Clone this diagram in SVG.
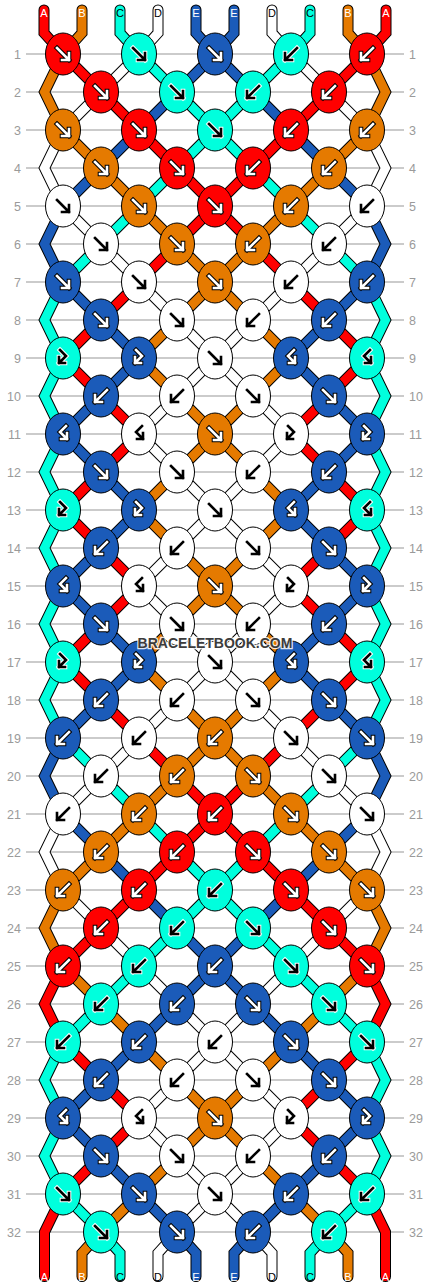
<svg xmlns="http://www.w3.org/2000/svg" width="430" height="1288" viewBox="0 0 430 1288">
<style>
.rl{fill:none;stroke:#bbb;stroke-width:1.5}
.num{font-family:"Liberation Sans",Arial,sans-serif;font-size:12.5px;fill:#9a9a9a}
.nl{text-anchor:end}
.s{fill:none;stroke-linejoin:miter;stroke-linecap:round;stroke-miterlimit:10}
.so{stroke:#000;stroke-width:11}
.sR{stroke:#f00;stroke-width:9}
.sO{stroke:#e57a00;stroke-width:9}
.sC{stroke:#00ffdd;stroke-width:9}
.sW{stroke:#fff;stroke-width:9}
.sB{stroke:#1b5bb9;stroke-width:9}
ellipse{stroke:#000;stroke-width:1}
.R{fill:#f00}.O{fill:#e57a00}.C{fill:#00ffdd}.B{fill:#1b5bb9}.W{fill:#fff}
.ar{fill:none;stroke-linejoin:miter;stroke-linecap:square}
.ao{stroke:#000;stroke-width:4.6}.ai{stroke:#fff;stroke-width:2.6}
.ko{stroke:#fff;stroke-width:4.6}.ki{stroke:#000;stroke-width:2.6}
.lt{font-family:"Liberation Sans",Arial,sans-serif;font-size:11px;text-anchor:middle}
.lw{fill:#fff}.lk{fill:#000}
.wm{font-family:"Liberation Sans",Arial,sans-serif;font-weight:bold;font-size:14px;fill:#3c3c3c;stroke:#fff;stroke-opacity:.85;stroke-width:2.5;paint-order:stroke;text-anchor:middle}
</style>
<defs>
<path id="sA" d="M44,10 L44,33 L63,54 L101,92 L139,130 L177,168 L215,206 L177,244 L139,282 L101,320 L63,358 L101,396 L139,434 L101,472 L63,510 L101,548 L139,586 L101,624 L63,662 L101,700 L139,738 L177,776 L215,814 L177,852 L139,890 L101,928 L63,966 L44.5,1004 L63,1042 L101,1080 L139,1118 L101,1156 L63,1194 L44.5,1232 L44.5,1276.5"/>
<path id="sB" d="M82,10 L82,33 L63,54 L44.5,92 L63,130 L101,168 L139,206 L177,244 L215,282 L177,320 L139,358 L177,396 L215,434 L177,472 L139,510 L177,548 L215,586 L177,624 L139,662 L177,700 L215,738 L177,776 L139,814 L101,852 L63,890 L44.5,928 L63,966 L101,1004 L139,1042 L177,1080 L215,1118 L177,1156 L139,1194 L101,1232 L82,1253 L82,1276.5"/>
<path id="sC" d="M120,10 L120,33 L139,54 L177,92 L215,130 L177,168 L139,206 L101,244 L63,282 L44.5,320 L63,358 L44.5,396 L63,434 L44.5,472 L63,510 L44.5,548 L63,586 L44.5,624 L63,662 L44.5,700 L63,738 L101,776 L139,814 L177,852 L215,890 L177,928 L139,966 L101,1004 L63,1042 L44.5,1080 L63,1118 L44.5,1156 L63,1194 L101,1232 L120,1253 L120,1276.5"/>
<path id="sD" d="M158,10 L158,33 L139,54 L101,92 L63,130 L44.5,168 L63,206 L101,244 L139,282 L177,320 L215,358 L177,396 L139,434 L177,472 L215,510 L177,548 L139,586 L177,624 L215,662 L177,700 L139,738 L101,776 L63,814 L44.5,852 L63,890 L101,928 L139,966 L177,1004 L215,1042 L177,1080 L139,1118 L177,1156 L215,1194 L177,1232 L158,1253 L158,1276.5"/>
<path id="sE" d="M196,10 L196,33 L215,54 L177,92 L139,130 L101,168 L63,206 L44.5,244 L63,282 L101,320 L139,358 L101,396 L63,434 L101,472 L139,510 L101,548 L63,586 L101,624 L139,662 L101,700 L63,738 L44.5,776 L63,814 L101,852 L139,890 L177,928 L215,966 L177,1004 L139,1042 L101,1080 L63,1118 L101,1156 L139,1194 L177,1232 L196,1253 L196,1276.5"/>
<path id="pf" class="ar" d="M-6,-6L6,6M6,-1L6,6L-1,6"/>
<path id="pb" class="ar" d="M6,-6L-6,6M-6,-1L-6,6L1,6"/>
<path id="pfb" class="ar" d="M-3,-8L3,-2L-4,5M-4,-1L-4,5L2,5"/>
<path id="pbf" class="ar" d="M3,-8L-3,-2L4,5M4,-1L4,5L-2,5"/>
<g id="fW"><use href="#pf" class="ao"/><use href="#pf" class="ai"/></g>
<g id="fK"><use href="#pf" class="ko"/><use href="#pf" class="ki"/></g>
<g id="bW"><use href="#pb" class="ao"/><use href="#pb" class="ai"/></g>
<g id="bK"><use href="#pb" class="ko"/><use href="#pb" class="ki"/></g>
<g id="fbW"><use href="#pfb" class="ao"/><use href="#pfb" class="ai"/></g>
<g id="fbK"><use href="#pfb" class="ko"/><use href="#pfb" class="ki"/></g>
<g id="bfW"><use href="#pbf" class="ao"/><use href="#pbf" class="ai"/></g>
<g id="bfK"><use href="#pbf" class="ko"/><use href="#pbf" class="ki"/></g>
</defs>
<rect width="430" height="1288" fill="#fff"/>
<path class="rl" d="M26,54H404M26,92H404M26,130H404M26,168H404M26,206H404M26,244H404M26,282H404M26,320H404M26,358H404M26,396H404M26,434H404M26,472H404M26,510H404M26,548H404M26,586H404M26,624H404M26,662H404M26,700H404M26,738H404M26,776H404M26,814H404M26,852H404M26,890H404M26,928H404M26,966H404M26,1004H404M26,1042H404M26,1080H404M26,1118H404M26,1156H404M26,1194H404M26,1232H404"/>
<g id="row-numbers">
<text class="num nl" x="21" y="58.5">1</text><text class="num" x="409" y="58.5">1</text>
<text class="num nl" x="21" y="96.5">2</text><text class="num" x="409" y="96.5">2</text>
<text class="num nl" x="21" y="134.5">3</text><text class="num" x="409" y="134.5">3</text>
<text class="num nl" x="21" y="172.5">4</text><text class="num" x="409" y="172.5">4</text>
<text class="num nl" x="21" y="210.5">5</text><text class="num" x="409" y="210.5">5</text>
<text class="num nl" x="21" y="248.5">6</text><text class="num" x="409" y="248.5">6</text>
<text class="num nl" x="21" y="286.5">7</text><text class="num" x="409" y="286.5">7</text>
<text class="num nl" x="21" y="324.5">8</text><text class="num" x="409" y="324.5">8</text>
<text class="num nl" x="21" y="362.5">9</text><text class="num" x="409" y="362.5">9</text>
<text class="num nl" x="21" y="400.5">10</text><text class="num" x="409" y="400.5">10</text>
<text class="num nl" x="21" y="438.5">11</text><text class="num" x="409" y="438.5">11</text>
<text class="num nl" x="21" y="476.5">12</text><text class="num" x="409" y="476.5">12</text>
<text class="num nl" x="21" y="514.5">13</text><text class="num" x="409" y="514.5">13</text>
<text class="num nl" x="21" y="552.5">14</text><text class="num" x="409" y="552.5">14</text>
<text class="num nl" x="21" y="590.5">15</text><text class="num" x="409" y="590.5">15</text>
<text class="num nl" x="21" y="628.5">16</text><text class="num" x="409" y="628.5">16</text>
<text class="num nl" x="21" y="666.5">17</text><text class="num" x="409" y="666.5">17</text>
<text class="num nl" x="21" y="704.5">18</text><text class="num" x="409" y="704.5">18</text>
<text class="num nl" x="21" y="742.5">19</text><text class="num" x="409" y="742.5">19</text>
<text class="num nl" x="21" y="780.5">20</text><text class="num" x="409" y="780.5">20</text>
<text class="num nl" x="21" y="818.5">21</text><text class="num" x="409" y="818.5">21</text>
<text class="num nl" x="21" y="856.5">22</text><text class="num" x="409" y="856.5">22</text>
<text class="num nl" x="21" y="894.5">23</text><text class="num" x="409" y="894.5">23</text>
<text class="num nl" x="21" y="932.5">24</text><text class="num" x="409" y="932.5">24</text>
<text class="num nl" x="21" y="970.5">25</text><text class="num" x="409" y="970.5">25</text>
<text class="num nl" x="21" y="1008.5">26</text><text class="num" x="409" y="1008.5">26</text>
<text class="num nl" x="21" y="1046.5">27</text><text class="num" x="409" y="1046.5">27</text>
<text class="num nl" x="21" y="1084.5">28</text><text class="num" x="409" y="1084.5">28</text>
<text class="num nl" x="21" y="1122.5">29</text><text class="num" x="409" y="1122.5">29</text>
<text class="num nl" x="21" y="1160.5">30</text><text class="num" x="409" y="1160.5">30</text>
<text class="num nl" x="21" y="1198.5">31</text><text class="num" x="409" y="1198.5">31</text>
<text class="num nl" x="21" y="1236.5">32</text><text class="num" x="409" y="1236.5">32</text>
</g>
<g id="connectors" class="s">
<g class="so"><use href="#sA"/><use href="#sB"/><use href="#sC"/><use href="#sD"/><use href="#sE"/></g>
<g class="so" transform="matrix(-1 0 0 1 430 0)"><use href="#sA"/><use href="#sB"/><use href="#sC"/><use href="#sD"/><use href="#sE"/></g>
<g><use href="#sA" class="sR"/><use href="#sB" class="sO"/><use href="#sC" class="sC"/><use href="#sD" class="sW"/><use href="#sE" class="sB"/></g>
<g transform="matrix(-1 0 0 1 430 0)"><use href="#sA" class="sR"/><use href="#sB" class="sO"/><use href="#sC" class="sC"/><use href="#sD" class="sW"/><use href="#sE" class="sB"/></g>
</g>
<g id="string-labels">
<text class="lt lw" x="44" y="16.5">A</text><text class="lt lw" x="82" y="16.5">B</text><text class="lt lk" x="120" y="16.5">C</text><text class="lt lk" x="158" y="16.5">D</text><text class="lt lw" x="196" y="16.5">E</text><text class="lt lw" x="234" y="16.5">E</text><text class="lt lk" x="272" y="16.5">D</text><text class="lt lk" x="310" y="16.5">C</text><text class="lt lw" x="348" y="16.5">B</text><text class="lt lw" x="386" y="16.5">A</text>
<text class="lt lw" x="44.5" y="1280.5">A</text><text class="lt lw" x="82" y="1280.5">B</text><text class="lt lk" x="120" y="1280.5">C</text><text class="lt lk" x="158" y="1280.5">D</text><text class="lt lw" x="196" y="1280.5">E</text><text class="lt lw" x="234" y="1280.5">E</text><text class="lt lk" x="272" y="1280.5">D</text><text class="lt lk" x="310" y="1280.5">C</text><text class="lt lw" x="348" y="1280.5">B</text><text class="lt lw" x="385.5" y="1280.5">A</text>
</g>
<g id="knots">
<g id="k1-1"><ellipse class="R" cx="63" cy="54" rx="17.5" ry="21"/><use href="#fW" x="63" y="54"/></g>
<g id="k1-2"><ellipse class="C" cx="139" cy="54" rx="17.5" ry="21"/><use href="#fK" x="139" y="54"/></g>
<g id="k1-3"><ellipse class="B" cx="215" cy="54" rx="17.5" ry="21"/><use href="#fW" x="215" y="54"/></g>
<g id="k1-4"><ellipse class="C" cx="291" cy="54" rx="17.5" ry="21"/><use href="#bK" x="291" y="54"/></g>
<g id="k1-5"><ellipse class="R" cx="367" cy="54" rx="17.5" ry="21"/><use href="#bW" x="367" y="54"/></g>
<g id="k2-1"><ellipse class="R" cx="101" cy="92" rx="17.5" ry="21"/><use href="#fW" x="101" y="92"/></g>
<g id="k2-2"><ellipse class="C" cx="177" cy="92" rx="17.5" ry="21"/><use href="#fK" x="177" y="92"/></g>
<g id="k2-3"><ellipse class="C" cx="253" cy="92" rx="17.5" ry="21"/><use href="#bK" x="253" y="92"/></g>
<g id="k2-4"><ellipse class="R" cx="329" cy="92" rx="17.5" ry="21"/><use href="#bW" x="329" y="92"/></g>
<g id="k3-1"><ellipse class="O" cx="63" cy="130" rx="17.5" ry="21"/><use href="#fW" x="63" y="130"/></g>
<g id="k3-2"><ellipse class="R" cx="139" cy="130" rx="17.5" ry="21"/><use href="#fW" x="139" y="130"/></g>
<g id="k3-3"><ellipse class="C" cx="215" cy="130" rx="17.5" ry="21"/><use href="#fK" x="215" y="130"/></g>
<g id="k3-4"><ellipse class="R" cx="291" cy="130" rx="17.5" ry="21"/><use href="#bW" x="291" y="130"/></g>
<g id="k3-5"><ellipse class="O" cx="367" cy="130" rx="17.5" ry="21"/><use href="#bW" x="367" y="130"/></g>
<g id="k4-1"><ellipse class="O" cx="101" cy="168" rx="17.5" ry="21"/><use href="#fW" x="101" y="168"/></g>
<g id="k4-2"><ellipse class="R" cx="177" cy="168" rx="17.5" ry="21"/><use href="#fW" x="177" y="168"/></g>
<g id="k4-3"><ellipse class="R" cx="253" cy="168" rx="17.5" ry="21"/><use href="#bW" x="253" y="168"/></g>
<g id="k4-4"><ellipse class="O" cx="329" cy="168" rx="17.5" ry="21"/><use href="#bW" x="329" y="168"/></g>
<g id="k5-1"><ellipse class="W" cx="63" cy="206" rx="17.5" ry="21"/><use href="#fK" x="63" y="206"/></g>
<g id="k5-2"><ellipse class="O" cx="139" cy="206" rx="17.5" ry="21"/><use href="#fW" x="139" y="206"/></g>
<g id="k5-3"><ellipse class="R" cx="215" cy="206" rx="17.5" ry="21"/><use href="#fW" x="215" y="206"/></g>
<g id="k5-4"><ellipse class="O" cx="291" cy="206" rx="17.5" ry="21"/><use href="#bW" x="291" y="206"/></g>
<g id="k5-5"><ellipse class="W" cx="367" cy="206" rx="17.5" ry="21"/><use href="#bK" x="367" y="206"/></g>
<g id="k6-1"><ellipse class="W" cx="101" cy="244" rx="17.5" ry="21"/><use href="#fK" x="101" y="244"/></g>
<g id="k6-2"><ellipse class="O" cx="177" cy="244" rx="17.5" ry="21"/><use href="#fW" x="177" y="244"/></g>
<g id="k6-3"><ellipse class="O" cx="253" cy="244" rx="17.5" ry="21"/><use href="#bW" x="253" y="244"/></g>
<g id="k6-4"><ellipse class="W" cx="329" cy="244" rx="17.5" ry="21"/><use href="#bK" x="329" y="244"/></g>
<g id="k7-1"><ellipse class="B" cx="63" cy="282" rx="17.5" ry="21"/><use href="#fW" x="63" y="282"/></g>
<g id="k7-2"><ellipse class="W" cx="139" cy="282" rx="17.5" ry="21"/><use href="#fK" x="139" y="282"/></g>
<g id="k7-3"><ellipse class="O" cx="215" cy="282" rx="17.5" ry="21"/><use href="#fW" x="215" y="282"/></g>
<g id="k7-4"><ellipse class="W" cx="291" cy="282" rx="17.5" ry="21"/><use href="#bK" x="291" y="282"/></g>
<g id="k7-5"><ellipse class="B" cx="367" cy="282" rx="17.5" ry="21"/><use href="#bW" x="367" y="282"/></g>
<g id="k8-1"><ellipse class="B" cx="101" cy="320" rx="17.5" ry="21"/><use href="#fW" x="101" y="320"/></g>
<g id="k8-2"><ellipse class="W" cx="177" cy="320" rx="17.5" ry="21"/><use href="#fK" x="177" y="320"/></g>
<g id="k8-3"><ellipse class="W" cx="253" cy="320" rx="17.5" ry="21"/><use href="#bK" x="253" y="320"/></g>
<g id="k8-4"><ellipse class="B" cx="329" cy="320" rx="17.5" ry="21"/><use href="#bW" x="329" y="320"/></g>
<g id="k9-1"><ellipse class="C" cx="63" cy="358" rx="17.5" ry="21"/><use href="#fbK" x="63" y="358"/></g>
<g id="k9-2"><ellipse class="B" cx="139" cy="358" rx="17.5" ry="21"/><use href="#fbW" x="139" y="358"/></g>
<g id="k9-3"><ellipse class="W" cx="215" cy="358" rx="17.5" ry="21"/><use href="#fK" x="215" y="358"/></g>
<g id="k9-4"><ellipse class="B" cx="291" cy="358" rx="17.5" ry="21"/><use href="#bfW" x="291" y="358"/></g>
<g id="k9-5"><ellipse class="C" cx="367" cy="358" rx="17.5" ry="21"/><use href="#bfK" x="367" y="358"/></g>
<g id="k10-1"><ellipse class="B" cx="101" cy="396" rx="17.5" ry="21"/><use href="#bW" x="101" y="396"/></g>
<g id="k10-2"><ellipse class="W" cx="177" cy="396" rx="17.5" ry="21"/><use href="#bK" x="177" y="396"/></g>
<g id="k10-3"><ellipse class="W" cx="253" cy="396" rx="17.5" ry="21"/><use href="#fK" x="253" y="396"/></g>
<g id="k10-4"><ellipse class="B" cx="329" cy="396" rx="17.5" ry="21"/><use href="#fW" x="329" y="396"/></g>
<g id="k11-1"><ellipse class="B" cx="63" cy="434" rx="17.5" ry="21"/><use href="#bfW" x="63" y="434"/></g>
<g id="k11-2"><ellipse class="W" cx="139" cy="434" rx="17.5" ry="21"/><use href="#bfK" x="139" y="434"/></g>
<g id="k11-3"><ellipse class="O" cx="215" cy="434" rx="17.5" ry="21"/><use href="#fW" x="215" y="434"/></g>
<g id="k11-4"><ellipse class="W" cx="291" cy="434" rx="17.5" ry="21"/><use href="#fbK" x="291" y="434"/></g>
<g id="k11-5"><ellipse class="B" cx="367" cy="434" rx="17.5" ry="21"/><use href="#fbW" x="367" y="434"/></g>
<g id="k12-1"><ellipse class="B" cx="101" cy="472" rx="17.5" ry="21"/><use href="#fW" x="101" y="472"/></g>
<g id="k12-2"><ellipse class="W" cx="177" cy="472" rx="17.5" ry="21"/><use href="#fK" x="177" y="472"/></g>
<g id="k12-3"><ellipse class="W" cx="253" cy="472" rx="17.5" ry="21"/><use href="#bK" x="253" y="472"/></g>
<g id="k12-4"><ellipse class="B" cx="329" cy="472" rx="17.5" ry="21"/><use href="#bW" x="329" y="472"/></g>
<g id="k13-1"><ellipse class="C" cx="63" cy="510" rx="17.5" ry="21"/><use href="#fbK" x="63" y="510"/></g>
<g id="k13-2"><ellipse class="B" cx="139" cy="510" rx="17.5" ry="21"/><use href="#fbW" x="139" y="510"/></g>
<g id="k13-3"><ellipse class="W" cx="215" cy="510" rx="17.5" ry="21"/><use href="#fK" x="215" y="510"/></g>
<g id="k13-4"><ellipse class="B" cx="291" cy="510" rx="17.5" ry="21"/><use href="#bfW" x="291" y="510"/></g>
<g id="k13-5"><ellipse class="C" cx="367" cy="510" rx="17.5" ry="21"/><use href="#bfK" x="367" y="510"/></g>
<g id="k14-1"><ellipse class="B" cx="101" cy="548" rx="17.5" ry="21"/><use href="#bW" x="101" y="548"/></g>
<g id="k14-2"><ellipse class="W" cx="177" cy="548" rx="17.5" ry="21"/><use href="#bK" x="177" y="548"/></g>
<g id="k14-3"><ellipse class="W" cx="253" cy="548" rx="17.5" ry="21"/><use href="#fK" x="253" y="548"/></g>
<g id="k14-4"><ellipse class="B" cx="329" cy="548" rx="17.5" ry="21"/><use href="#fW" x="329" y="548"/></g>
<g id="k15-1"><ellipse class="B" cx="63" cy="586" rx="17.5" ry="21"/><use href="#bfW" x="63" y="586"/></g>
<g id="k15-2"><ellipse class="W" cx="139" cy="586" rx="17.5" ry="21"/><use href="#bfK" x="139" y="586"/></g>
<g id="k15-3"><ellipse class="O" cx="215" cy="586" rx="17.5" ry="21"/><use href="#fW" x="215" y="586"/></g>
<g id="k15-4"><ellipse class="W" cx="291" cy="586" rx="17.5" ry="21"/><use href="#fbK" x="291" y="586"/></g>
<g id="k15-5"><ellipse class="B" cx="367" cy="586" rx="17.5" ry="21"/><use href="#fbW" x="367" y="586"/></g>
<g id="k16-1"><ellipse class="B" cx="101" cy="624" rx="17.5" ry="21"/><use href="#fW" x="101" y="624"/></g>
<g id="k16-2"><ellipse class="W" cx="177" cy="624" rx="17.5" ry="21"/><use href="#fK" x="177" y="624"/></g>
<g id="k16-3"><ellipse class="W" cx="253" cy="624" rx="17.5" ry="21"/><use href="#bK" x="253" y="624"/></g>
<g id="k16-4"><ellipse class="B" cx="329" cy="624" rx="17.5" ry="21"/><use href="#bW" x="329" y="624"/></g>
<g id="k17-1"><ellipse class="C" cx="63" cy="662" rx="17.5" ry="21"/><use href="#fbK" x="63" y="662"/></g>
<g id="k17-2"><ellipse class="B" cx="139" cy="662" rx="17.5" ry="21"/><use href="#fbW" x="139" y="662"/></g>
<g id="k17-3"><ellipse class="W" cx="215" cy="662" rx="17.5" ry="21"/><use href="#fK" x="215" y="662"/></g>
<g id="k17-4"><ellipse class="B" cx="291" cy="662" rx="17.5" ry="21"/><use href="#bfW" x="291" y="662"/></g>
<g id="k17-5"><ellipse class="C" cx="367" cy="662" rx="17.5" ry="21"/><use href="#bfK" x="367" y="662"/></g>
<g id="k18-1"><ellipse class="B" cx="101" cy="700" rx="17.5" ry="21"/><use href="#bW" x="101" y="700"/></g>
<g id="k18-2"><ellipse class="W" cx="177" cy="700" rx="17.5" ry="21"/><use href="#bK" x="177" y="700"/></g>
<g id="k18-3"><ellipse class="W" cx="253" cy="700" rx="17.5" ry="21"/><use href="#fK" x="253" y="700"/></g>
<g id="k18-4"><ellipse class="B" cx="329" cy="700" rx="17.5" ry="21"/><use href="#fW" x="329" y="700"/></g>
<g id="k19-1"><ellipse class="B" cx="63" cy="738" rx="17.5" ry="21"/><use href="#bW" x="63" y="738"/></g>
<g id="k19-2"><ellipse class="W" cx="139" cy="738" rx="17.5" ry="21"/><use href="#bK" x="139" y="738"/></g>
<g id="k19-3"><ellipse class="O" cx="215" cy="738" rx="17.5" ry="21"/><use href="#bW" x="215" y="738"/></g>
<g id="k19-4"><ellipse class="W" cx="291" cy="738" rx="17.5" ry="21"/><use href="#fK" x="291" y="738"/></g>
<g id="k19-5"><ellipse class="B" cx="367" cy="738" rx="17.5" ry="21"/><use href="#fW" x="367" y="738"/></g>
<g id="k20-1"><ellipse class="W" cx="101" cy="776" rx="17.5" ry="21"/><use href="#bK" x="101" y="776"/></g>
<g id="k20-2"><ellipse class="O" cx="177" cy="776" rx="17.5" ry="21"/><use href="#bW" x="177" y="776"/></g>
<g id="k20-3"><ellipse class="O" cx="253" cy="776" rx="17.5" ry="21"/><use href="#fW" x="253" y="776"/></g>
<g id="k20-4"><ellipse class="W" cx="329" cy="776" rx="17.5" ry="21"/><use href="#fK" x="329" y="776"/></g>
<g id="k21-1"><ellipse class="W" cx="63" cy="814" rx="17.5" ry="21"/><use href="#bK" x="63" y="814"/></g>
<g id="k21-2"><ellipse class="O" cx="139" cy="814" rx="17.5" ry="21"/><use href="#bW" x="139" y="814"/></g>
<g id="k21-3"><ellipse class="R" cx="215" cy="814" rx="17.5" ry="21"/><use href="#bW" x="215" y="814"/></g>
<g id="k21-4"><ellipse class="O" cx="291" cy="814" rx="17.5" ry="21"/><use href="#fW" x="291" y="814"/></g>
<g id="k21-5"><ellipse class="W" cx="367" cy="814" rx="17.5" ry="21"/><use href="#fK" x="367" y="814"/></g>
<g id="k22-1"><ellipse class="O" cx="101" cy="852" rx="17.5" ry="21"/><use href="#bW" x="101" y="852"/></g>
<g id="k22-2"><ellipse class="R" cx="177" cy="852" rx="17.5" ry="21"/><use href="#bW" x="177" y="852"/></g>
<g id="k22-3"><ellipse class="R" cx="253" cy="852" rx="17.5" ry="21"/><use href="#fW" x="253" y="852"/></g>
<g id="k22-4"><ellipse class="O" cx="329" cy="852" rx="17.5" ry="21"/><use href="#fW" x="329" y="852"/></g>
<g id="k23-1"><ellipse class="O" cx="63" cy="890" rx="17.5" ry="21"/><use href="#bW" x="63" y="890"/></g>
<g id="k23-2"><ellipse class="R" cx="139" cy="890" rx="17.5" ry="21"/><use href="#bW" x="139" y="890"/></g>
<g id="k23-3"><ellipse class="C" cx="215" cy="890" rx="17.5" ry="21"/><use href="#bK" x="215" y="890"/></g>
<g id="k23-4"><ellipse class="R" cx="291" cy="890" rx="17.5" ry="21"/><use href="#fW" x="291" y="890"/></g>
<g id="k23-5"><ellipse class="O" cx="367" cy="890" rx="17.5" ry="21"/><use href="#fW" x="367" y="890"/></g>
<g id="k24-1"><ellipse class="R" cx="101" cy="928" rx="17.5" ry="21"/><use href="#bW" x="101" y="928"/></g>
<g id="k24-2"><ellipse class="C" cx="177" cy="928" rx="17.5" ry="21"/><use href="#bK" x="177" y="928"/></g>
<g id="k24-3"><ellipse class="C" cx="253" cy="928" rx="17.5" ry="21"/><use href="#fK" x="253" y="928"/></g>
<g id="k24-4"><ellipse class="R" cx="329" cy="928" rx="17.5" ry="21"/><use href="#fW" x="329" y="928"/></g>
<g id="k25-1"><ellipse class="R" cx="63" cy="966" rx="17.5" ry="21"/><use href="#bW" x="63" y="966"/></g>
<g id="k25-2"><ellipse class="C" cx="139" cy="966" rx="17.5" ry="21"/><use href="#bK" x="139" y="966"/></g>
<g id="k25-3"><ellipse class="B" cx="215" cy="966" rx="17.5" ry="21"/><use href="#bW" x="215" y="966"/></g>
<g id="k25-4"><ellipse class="C" cx="291" cy="966" rx="17.5" ry="21"/><use href="#fK" x="291" y="966"/></g>
<g id="k25-5"><ellipse class="R" cx="367" cy="966" rx="17.5" ry="21"/><use href="#fW" x="367" y="966"/></g>
<g id="k26-1"><ellipse class="C" cx="101" cy="1004" rx="17.5" ry="21"/><use href="#bK" x="101" y="1004"/></g>
<g id="k26-2"><ellipse class="B" cx="177" cy="1004" rx="17.5" ry="21"/><use href="#bW" x="177" y="1004"/></g>
<g id="k26-3"><ellipse class="B" cx="253" cy="1004" rx="17.5" ry="21"/><use href="#fW" x="253" y="1004"/></g>
<g id="k26-4"><ellipse class="C" cx="329" cy="1004" rx="17.5" ry="21"/><use href="#fK" x="329" y="1004"/></g>
<g id="k27-1"><ellipse class="C" cx="63" cy="1042" rx="17.5" ry="21"/><use href="#bK" x="63" y="1042"/></g>
<g id="k27-2"><ellipse class="B" cx="139" cy="1042" rx="17.5" ry="21"/><use href="#bW" x="139" y="1042"/></g>
<g id="k27-3"><ellipse class="W" cx="215" cy="1042" rx="17.5" ry="21"/><use href="#bK" x="215" y="1042"/></g>
<g id="k27-4"><ellipse class="B" cx="291" cy="1042" rx="17.5" ry="21"/><use href="#fW" x="291" y="1042"/></g>
<g id="k27-5"><ellipse class="C" cx="367" cy="1042" rx="17.5" ry="21"/><use href="#fK" x="367" y="1042"/></g>
<g id="k28-1"><ellipse class="B" cx="101" cy="1080" rx="17.5" ry="21"/><use href="#bW" x="101" y="1080"/></g>
<g id="k28-2"><ellipse class="W" cx="177" cy="1080" rx="17.5" ry="21"/><use href="#bK" x="177" y="1080"/></g>
<g id="k28-3"><ellipse class="W" cx="253" cy="1080" rx="17.5" ry="21"/><use href="#fK" x="253" y="1080"/></g>
<g id="k28-4"><ellipse class="B" cx="329" cy="1080" rx="17.5" ry="21"/><use href="#fW" x="329" y="1080"/></g>
<g id="k29-1"><ellipse class="B" cx="63" cy="1118" rx="17.5" ry="21"/><use href="#bfW" x="63" y="1118"/></g>
<g id="k29-2"><ellipse class="W" cx="139" cy="1118" rx="17.5" ry="21"/><use href="#bfK" x="139" y="1118"/></g>
<g id="k29-3"><ellipse class="O" cx="215" cy="1118" rx="17.5" ry="21"/><use href="#fW" x="215" y="1118"/></g>
<g id="k29-4"><ellipse class="W" cx="291" cy="1118" rx="17.5" ry="21"/><use href="#fbK" x="291" y="1118"/></g>
<g id="k29-5"><ellipse class="B" cx="367" cy="1118" rx="17.5" ry="21"/><use href="#fbW" x="367" y="1118"/></g>
<g id="k30-1"><ellipse class="B" cx="101" cy="1156" rx="17.5" ry="21"/><use href="#fW" x="101" y="1156"/></g>
<g id="k30-2"><ellipse class="W" cx="177" cy="1156" rx="17.5" ry="21"/><use href="#fK" x="177" y="1156"/></g>
<g id="k30-3"><ellipse class="W" cx="253" cy="1156" rx="17.5" ry="21"/><use href="#bK" x="253" y="1156"/></g>
<g id="k30-4"><ellipse class="B" cx="329" cy="1156" rx="17.5" ry="21"/><use href="#bW" x="329" y="1156"/></g>
<g id="k31-1"><ellipse class="C" cx="63" cy="1194" rx="17.5" ry="21"/><use href="#fK" x="63" y="1194"/></g>
<g id="k31-2"><ellipse class="B" cx="139" cy="1194" rx="17.5" ry="21"/><use href="#fW" x="139" y="1194"/></g>
<g id="k31-3"><ellipse class="W" cx="215" cy="1194" rx="17.5" ry="21"/><use href="#fK" x="215" y="1194"/></g>
<g id="k31-4"><ellipse class="B" cx="291" cy="1194" rx="17.5" ry="21"/><use href="#bW" x="291" y="1194"/></g>
<g id="k31-5"><ellipse class="C" cx="367" cy="1194" rx="17.5" ry="21"/><use href="#bK" x="367" y="1194"/></g>
<g id="k32-1"><ellipse class="C" cx="101" cy="1232" rx="17.5" ry="21"/><use href="#fK" x="101" y="1232"/></g>
<g id="k32-2"><ellipse class="B" cx="177" cy="1232" rx="17.5" ry="21"/><use href="#fW" x="177" y="1232"/></g>
<g id="k32-3"><ellipse class="B" cx="253" cy="1232" rx="17.5" ry="21"/><use href="#bW" x="253" y="1232"/></g>
<g id="k32-4"><ellipse class="C" cx="329" cy="1232" rx="17.5" ry="21"/><use href="#bK" x="329" y="1232"/></g>
</g>
<text class="wm" x="215" y="648">BRACELETBOOK.COM</text>
</svg>
